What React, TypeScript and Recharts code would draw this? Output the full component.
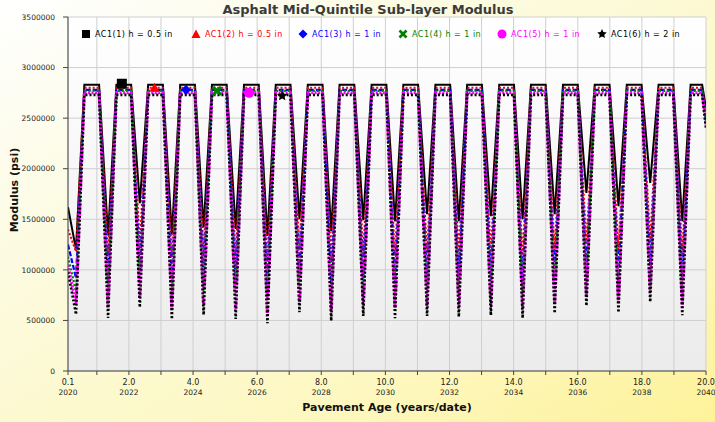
import React from 'react';
import { ComposedChart, Line, Scatter, XAxis, YAxis, CartesianGrid } from 'recharts';

// Pavement age (years) of each plotted point
const ages = [
  0.1,
  0.35, 0.61, 1.07,
  1.35, 1.61, 2.07,
  2.34, 2.6, 3.06,
  3.34, 3.6, 4.06,
  4.33, 4.59, 5.05,
  5.33, 5.59, 6.05,
  6.32, 6.58, 7.04,
  7.32, 7.58, 8.04,
  8.31, 8.57, 9.03,
  9.31, 9.57, 10.03,
  10.3, 10.56, 11.02,
  11.3, 11.56, 12.02,
  12.29, 12.55, 13.01,
  13.29, 13.55, 14.01,
  14.28, 14.54, 15.0,
  15.28, 15.54, 16.0,
  16.27, 16.53, 16.99,
  17.27, 17.53, 17.99,
  18.26, 18.52, 18.98,
  19.26, 19.52, 19.88,
  20.0,
];

const ac1_1 = [
  1620000,
  1200000, 2830000, 2830000,
  1340000, 2830000, 2830000,
  1660000, 2830000, 2830000,
  1350000, 2830000, 2830000,
  1420000, 2830000, 2830000,
  1405000, 2830000, 2830000,
  1335000, 2830000, 2830000,
  1500000, 2830000, 2830000,
  1385000, 2830000, 2830000,
  1490000, 2830000, 2830000,
  1480000, 2830000, 2830000,
  1550000, 2830000, 2830000,
  1480000, 2830000, 2830000,
  1530000, 2830000, 2830000,
  1500000, 2830000, 2830000,
  1550000, 2830000, 2830000,
  1760000, 2830000, 2830000,
  1630000, 2830000, 2830000,
  1860000, 2830000, 2830000,
  1480000, 2830000, 2830000,
  2600000,
];

const ac1_2 = [
  1400000,
  1180000, 2800000, 2800000,
  1145000, 2800000, 2800000,
  1250000, 2800000, 2800000,
  1133000, 2800000, 2800000,
  1175000, 2800000, 2800000,
  1135000, 2800000, 2800000,
  1093000, 2800000, 2800000,
  1202000, 2800000, 2800000,
  1116000, 2800000, 2800000,
  1165000, 2800000, 2800000,
  1143000, 2800000, 2800000,
  1165000, 2800000, 2800000,
  1155000, 2800000, 2800000,
  1172000, 2800000, 2800000,
  1143000, 2800000, 2800000,
  1192000, 2800000, 2800000,
  1264000, 2800000, 2800000,
  1199000, 2800000, 2800000,
  1303000, 2800000, 2800000,
  1172000, 2800000, 2800000,
  2500000,
];

const ac1_3 = [
  1250000,
  920000, 2780000, 2780000,
  885000, 2780000, 2780000,
  990000, 2780000, 2780000,
  873000, 2780000, 2780000,
  915000, 2780000, 2780000,
  875000, 2780000, 2780000,
  833000, 2780000, 2780000,
  942000, 2780000, 2780000,
  856000, 2780000, 2780000,
  905000, 2780000, 2780000,
  883000, 2780000, 2780000,
  905000, 2780000, 2780000,
  895000, 2780000, 2780000,
  912000, 2780000, 2780000,
  883000, 2780000, 2780000,
  932000, 2780000, 2780000,
  1004000, 2780000, 2780000,
  939000, 2780000, 2780000,
  1043000, 2780000, 2780000,
  912000, 2780000, 2780000,
  2470000,
];

const ac1_4 = [
  1130000,
  790000, 2770000, 2770000,
  755000, 2770000, 2770000,
  860000, 2770000, 2770000,
  743000, 2770000, 2770000,
  785000, 2770000, 2770000,
  745000, 2770000, 2770000,
  703000, 2770000, 2770000,
  812000, 2770000, 2770000,
  726000, 2770000, 2770000,
  775000, 2770000, 2770000,
  753000, 2770000, 2770000,
  775000, 2770000, 2770000,
  765000, 2770000, 2770000,
  782000, 2770000, 2770000,
  753000, 2770000, 2770000,
  802000, 2770000, 2770000,
  874000, 2770000, 2770000,
  809000, 2770000, 2770000,
  913000, 2770000, 2770000,
  782000, 2770000, 2770000,
  2450000,
];

const ac1_5 = [
  1050000,
  660000, 2750000, 2750000,
  625000, 2750000, 2750000,
  730000, 2750000, 2750000,
  613000, 2750000, 2750000,
  655000, 2750000, 2750000,
  615000, 2750000, 2750000,
  573000, 2750000, 2750000,
  682000, 2750000, 2750000,
  596000, 2750000, 2750000,
  645000, 2750000, 2750000,
  623000, 2750000, 2750000,
  645000, 2750000, 2750000,
  635000, 2750000, 2750000,
  652000, 2750000, 2750000,
  623000, 2750000, 2750000,
  672000, 2750000, 2750000,
  744000, 2750000, 2750000,
  679000, 2750000, 2750000,
  783000, 2750000, 2750000,
  652000, 2750000, 2750000,
  2430000,
];

const ac1_6 = [
  980000,
  560000, 2730000, 2730000,
  525000, 2730000, 2730000,
  630000, 2730000, 2730000,
  513000, 2730000, 2730000,
  555000, 2730000, 2730000,
  515000, 2730000, 2730000,
  473000, 2730000, 2730000,
  582000, 2730000, 2730000,
  496000, 2730000, 2730000,
  545000, 2730000, 2730000,
  523000, 2730000, 2730000,
  545000, 2730000, 2730000,
  535000, 2730000, 2730000,
  552000, 2730000, 2730000,
  523000, 2730000, 2730000,
  572000, 2730000, 2730000,
  644000, 2730000, 2730000,
  579000, 2730000, 2730000,
  683000, 2730000, 2730000,
  552000, 2730000, 2730000,
  2400000,
];

// Single series markers (age, modulus)
const markerAges = [1.78, 2.8, 3.78, 4.75, 5.75, 6.78];
const markerValues = [2840000, 2800000, 2780000, 2770000, 2750000, 2720000];

const seriesNames = [
  'AC1(1) h = 0.5 in',
  'AC1(2) h = 0.5 in',
  'AC1(3) h = 1 in',
  'AC1(4) h = 1 in',
  'AC1(5) h = 1 in',
  'AC1(6) h = 2 in',
];
const seriesColors = ['#000000', '#ff0000', '#0000ff', '#008000', '#ff00ff', '#000000'];
const seriesKeys = ['s1', 's2', 's3', 's4', 's5', 's6'];

const yTicks = [0, 500000, 1000000, 1500000, 2000000, 2500000, 3000000, 3500000];
const xTicks = [0.1, 1, 2, 3, 4, 5, 6, 7, 8, 9, 10, 11, 12, 13, 14, 15, 16, 17, 18, 19, 20];
const xLabelTicks = [0.1, 2, 4, 6, 8, 10, 12, 14, 16, 18, 20];
const xYearLabels = ['2020', '2022', '2024', '2026', '2028', '2030', '2032', '2034', '2036', '2038', '2040'];

const allSeries = [ac1_1, ac1_2, ac1_3, ac1_4, ac1_5, ac1_6];
const data = ages.map((age, i) => {
  const row: any = { age };
  seriesKeys.forEach((k, j) => (row[k] = allSeries[j][i]));
  return row;
});

const FONT = '"DejaVu Sans", Verdana, sans-serif';

const XTick = (props: any) => {
  const { x, y, payload } = props;
  const idx = xLabelTicks.indexOf(payload.value);
  if (idx < 0) return null;
  return (
    <g>
      <text x={x} y={y + 8} textAnchor="middle" fontSize={8} fontFamily={FONT} fill="#222">
        {payload.value.toFixed(1)}
      </text>
      <text x={x} y={y + 18} textAnchor="middle" fontSize={7.5} fontFamily={FONT} fill="#222">
        {xYearLabels[idx]}
      </text>
    </g>
  );
};

const markerShape = (j: number) => (props: any) => {
  const { cx, cy } = props;
  const c = seriesColors[j];
  if (j === 0) return <rect x={cx - 5} y={cy - 5} width={10} height={10} fill={c} />;
  if (j === 1) return <polygon points={`${cx},${cy - 5} ${cx + 5},${cy + 4} ${cx - 5},${cy + 4}`} fill={c} />;
  if (j === 2) return <polygon points={`${cx},${cy - 5} ${cx + 5},${cy} ${cx},${cy + 5} ${cx - 5},${cy}`} fill={c} />;
  if (j === 3)
    return (
      <g stroke={c} strokeWidth={3}>
        <line x1={cx - 4} y1={cy - 4} x2={cx + 4} y2={cy + 4} />
        <line x1={cx - 4} y1={cy + 4} x2={cx + 4} y2={cy - 4} />
      </g>
    );
  if (j === 4) return <circle cx={cx} cy={cy} r={5} fill={c} />;
  const pts: string[] = [];
  for (let i = 0; i < 10; i++) {
    const r = i % 2 === 0 ? 5.5 : 2.6;
    const a = -Math.PI / 2 + (i * Math.PI) / 5;
    pts.push(`${cx + r * Math.cos(a)},${cy + r * Math.sin(a)}`);
  }
  return <polygon points={pts.join(' ')} fill={c} />;
};

const LegendIcon = ({ j }: { j: number }) => {
  const c = seriesColors[j];
  let el: any;
  if (j === 0) el = <rect x={1} y={1} width={8} height={8} fill={c} />;
  else if (j === 1) el = <polygon points="5,0.5 9.5,9 0.5,9" fill={c} />;
  else if (j === 2) el = <polygon points="5,0.5 9.5,5 5,9.5 0.5,5" fill={c} />;
  else if (j === 3)
    el = (
      <g stroke={c} strokeWidth={2.6}>
        <line x1={1.5} y1={1.5} x2={8.5} y2={8.5} />
        <line x1={1.5} y1={8.5} x2={8.5} y2={1.5} />
      </g>
    );
  else if (j === 4) el = <circle cx={5} cy={5} r={4.5} fill={c} />;
  else {
    const pts: string[] = [];
    for (let i = 0; i < 10; i++) {
      const r = i % 2 === 0 ? 5 : 2.4;
      const a = -Math.PI / 2 + (i * Math.PI) / 5;
      pts.push(`${5 + r * Math.cos(a)},${5 + r * Math.sin(a)}`);
    }
    el = <polygon points={pts.join(' ')} fill={c} />;
  }
  return (
    <svg width={10} height={10} style={{ display: 'block' }}>
      {el}
    </svg>
  );
};

const legendIconX = [81, 191, 298, 398, 497, 597];

const lineStyles = [
  { w: 2, dash: undefined },
  { w: 2, dash: '2 2' },
  { w: 2.2, dash: '5 2' },
  { w: 2.2, dash: '2 2' },
  { w: 3, dash: '2 1.5' },
  { w: 2.6, dash: '2 2' },
];

export default function App() {
  return (
    <div
      style={{
        position: 'fixed',
        left: 0,
        top: 0,
        width: 715,
        height: 422,
        overflow: 'hidden',
        background: 'linear-gradient(150deg, #ffffff 0%, #fcfbe2 30%, #fdf8c2 70%, #fef29a 100%)',
        fontFamily: FONT,
      }}
    >
      <div
        style={{
          position: 'absolute',
          left: 68,
          top: 17,
          width: 638,
          height: 354,
          background: 'linear-gradient(180deg, #ffffff 0%, #f6f6f6 50%, #ebebeb 100%)',
        }}
      />
      <div style={{ position: 'absolute', left: 0, top: 0 }}>
        <ComposedChart width={715} height={422} data={data} margin={{ top: 17, right: 9, bottom: 0, left: 0 }}>
          <CartesianGrid stroke="#cfcfcf" strokeWidth={1} horizontalValues={yTicks} verticalValues={xTicks} />
          <XAxis
            dataKey="age"
            type="number"
            domain={[0.1, 20]}
            ticks={xTicks}
            interval={0}
            height={51}
            tickSize={4}
            stroke="#444"
            tick={<XTick />}
            allowDataOverflow
          />
          <YAxis
            type="number"
            domain={[0, 3500000]}
            ticks={yTicks}
            interval={0}
            width={68}
            tickSize={5}
            tickMargin={8}
            stroke="#444"
            tick={{ fontSize: 7.5, fontFamily: FONT, fill: '#222' }}
          />
          {seriesKeys.map((k, j) => (
            <Line
              key={k}
              dataKey={k}
              type="linear"
              stroke={seriesColors[j]}
              strokeWidth={lineStyles[j].w}
              strokeDasharray={lineStyles[j].dash}
              dot={false}
              activeDot={false}
              isAnimationActive={false}
            />
          ))}
          {seriesKeys.map((k, j) => (
            <Scatter
              key={'m' + k}
              data={[{ age: markerAges[j], value: markerValues[j] }]}
              dataKey="value"
              shape={markerShape(j)}
              isAnimationActive={false}
            />
          ))}
        </ComposedChart>
      </div>
      <div
        style={{
          position: 'absolute',
          left: 0,
          width: 736,
          top: 2,
          textAlign: 'center',
          fontSize: 13,
          fontWeight: 'bold',
          color: '#3a3a3a',
          whiteSpace: 'nowrap',
        }}
      >
        Asphalt Mid-Quintile Sub-layer Modulus
      </div>
      {seriesNames.map((n, j) => (
        <div
          key={n}
          style={{
            position: 'absolute',
            left: legendIconX[j],
            top: 29,
            display: 'flex',
            alignItems: 'center',
            gap: 4,
            fontSize: 8,
            letterSpacing: 0.5,
            color: seriesColors[j],
            whiteSpace: 'nowrap',
          }}
        >
          <LegendIcon j={j} />
          <span>{n}</span>
        </div>
      ))}
      <div
        style={{
          position: 'absolute',
          left: 0,
          width: 774,
          top: 401,
          textAlign: 'center',
          fontSize: 11,
          fontWeight: 'bold',
          color: '#111',
          whiteSpace: 'nowrap',
        }}
      >
        Pavement Age (years/date)
      </div>
      <div
        style={{
          position: 'absolute',
          left: 14,
          top: 190,
          transform: 'translate(-50%, -50%) rotate(-90deg)',
          fontSize: 11,
          fontWeight: 'bold',
          color: '#111',
          whiteSpace: 'nowrap',
        }}
      >
        Modulus (psi)
      </div>
    </div>
  );
}
